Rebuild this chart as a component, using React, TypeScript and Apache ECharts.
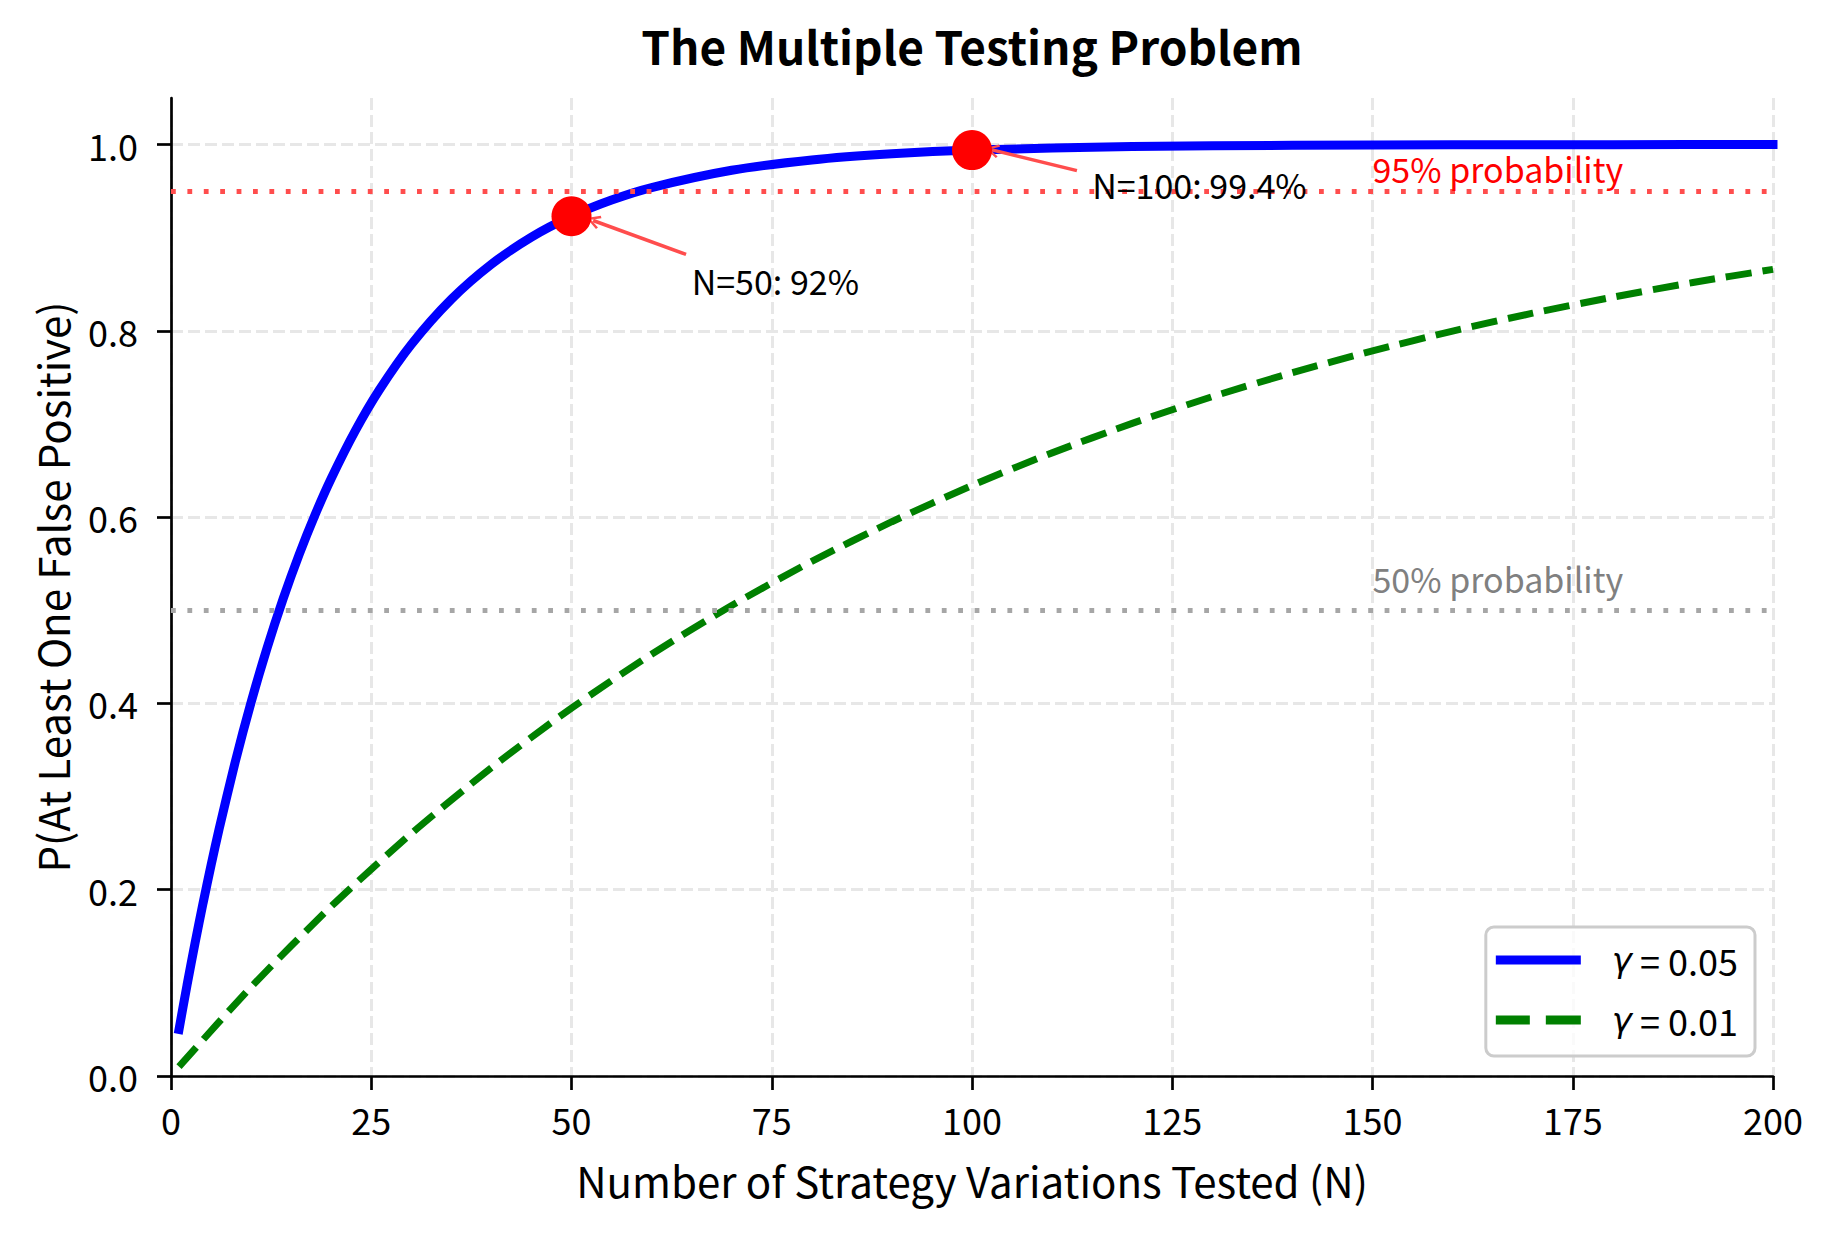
import { useEffect, useRef } from 'react'
import * as echarts from 'echarts'

// N tested and P(at least one false positive)
const N_05 = [1, 2, 3, 4, 5, 6, 8, 10, 12, 14, 16, 18, 20, 23, 26, 30, 35, 40, 45, 50, 55, 60, 70, 80, 90, 100, 120, 140, 160, 180, 200]
const P_05 = [0.05, 0.0975, 0.1426, 0.1855, 0.2262, 0.2649, 0.3366, 0.4013, 0.4596, 0.5123, 0.5599, 0.6028, 0.6415, 0.6926, 0.7365, 0.7854, 0.8339, 0.8715, 0.9006, 0.9231, 0.9405, 0.9539, 0.9724, 0.9835, 0.9901, 0.9941, 0.9979, 0.9992, 0.9997, 0.9999, 1.0]
const N_01 = [1, 10, 20, 30, 40, 50, 60, 70, 80, 90, 100, 110, 120, 130, 140, 150, 160, 170, 180, 190, 200]
const P_01 = [0.01, 0.0956, 0.1821, 0.2603, 0.331, 0.395, 0.4528, 0.5052, 0.5525, 0.5951, 0.634, 0.669, 0.7007, 0.7294, 0.7551, 0.7785, 0.7998, 0.819, 0.8362, 0.8519, 0.866]

const SERIES_NAMES = ['γ = 0.05', 'γ = 0.01']

// highlighted points
const HL_X = [50, 100]
const HL_Y = [0.9231, 0.9941]

// arrows: from text to point
const ARROW_FROM = [[64.3, 0.882], [113.1, 0.972]]
const ARROW_TO = [[52.7, 0.9185], [102.5, 0.9943]]

// reference lines
const REF_Y = [0.95, 0.5]
const REF_COLOR = ['#ff4d4d', '#a6a6a6']

// text notes (baseline-left anchored)
const NOTE_X = [65, 115, 150, 150]
const NOTE_Y = [0.84, 0.943, 0.96, 0.52]
const NOTE_TEXT = ['N=50: 92%', 'N=100: 99.4%', '95% probability', '50% probability']
const NOTE_COLOR = ['#000000', '#000000', '#ff0000', '#808080']

const X_TICKS = [0, 25, 50, 75, 100, 125, 150, 175, 200]
const Y_TICKS = [0, 0.2, 0.4, 0.6, 0.8, 1.0]

const FONT = "'Noto Sans CJK SC', 'Noto Sans', sans-serif"
const NOTE_SIZE = 34
const ARROW = 'path://M5,0 L10,9 L8.6,10 L5,3.4 L1.4,10 L0,9 Z'
// legend keys: solid bar and two dashes
const ICON_SOLID = 'path://M0,0H85V9H0Z'
const ICON_DASHED = 'path://M0,0H34V9H0Z M50,0H85V9H50Z'

const App = () => {
  const ref = useRef<HTMLDivElement | null>(null)

  useEffect(() => {
    document.body.style.margin = '0'
    if (!ref.current) return
    const chart = echarts.init(ref.current, null, { renderer: 'svg' })

    const option = {
      animation: false,
      backgroundColor: '#ffffff',
      title: {
        text: 'The Multiple Testing Problem',
        left: 972,
        top: 22,
        textAlign: 'center',
        padding: 0,
        textStyle: { fontSize: 46, fontWeight: 'bold', fontFamily: FONT, color: '#000' }
      },
      grid: { left: 171, right: 61, top: 98, bottom: 158 },
      legend: {
        data: [
          { name: SERIES_NAMES[0], icon: ICON_SOLID },
          { name: SERIES_NAMES[1], icon: ICON_DASHED }
        ],
        orient: 'vertical',
        right: 79,
        bottom: 178,
        itemWidth: 85,
        itemHeight: 9,
        itemGap: 24,
        padding: [15, 17, 18, 10],
        borderColor: '#cccccc',
        borderWidth: 3,
        borderRadius: 8,
        backgroundColor: 'rgba(255,255,255,0.8)',
        formatter: (name: string) => `{s|}{g|γ}{t| = ${name.split('=')[1].trim()}}`,
        textStyle: {
          fontSize: 36,
          fontFamily: FONT,
          color: '#000',
          rich: {
            s: { width: 26 },
            g: { fontSize: 34, fontStyle: 'italic', fontFamily: "'DejaVu Sans', sans-serif", color: '#000' },
            t: { fontSize: 36, fontFamily: FONT, color: '#000' }
          }
        }
      },
      xAxis: {
        type: 'value',
        min: 0,
        max: 200,
        interval: 25,
        name: 'Number of Strategy Variations Tested (N)',
        nameLocation: 'middle',
        nameGap: 82,
        nameTextStyle: { fontSize: 42, fontFamily: FONT, color: '#000' },
        axisLine: { lineStyle: { color: '#000', width: 2.7 } },
        axisTick: { length: 14, customValues: X_TICKS, lineStyle: { color: '#000', width: 2.7 } },
        axisLabel: { fontSize: 36, fontFamily: FONT, color: '#000', margin: 25, customValues: X_TICKS },
        splitLine: { show: true, lineStyle: { color: '#e7e7e7', width: 3, type: [12, 5] } }
      },
      yAxis: {
        type: 'value',
        min: 0,
        max: 1.05,
        name: 'P(At Least One False Positive)',
        nameLocation: 'middle',
        nameGap: 99,
        nameTextStyle: { fontSize: 42, fontFamily: FONT, color: '#000' },
        axisLine: { show: true, lineStyle: { color: '#000', width: 2.7 } },
        axisTick: { show: true, length: 14, customValues: Y_TICKS, lineStyle: { color: '#000', width: 2.7 } },
        axisLabel: {
          fontSize: 36,
          fontFamily: FONT,
          color: '#000',
          margin: 33,
          customValues: Y_TICKS,
          formatter: (v: number) => v.toFixed(1)
        },
        splitLine: { show: true, lineStyle: { color: '#e7e7e7', width: 3, type: [12, 5] } }
      },
      series: [
        {
          name: SERIES_NAMES[0],
          type: 'line',
          data: N_05.map((n, i) => [n, P_05[i]]),
          symbol: 'none',
          smooth: 0.25,
          lineStyle: { color: '#0000ff', width: 9, cap: 'square' },
          itemStyle: { color: '#0000ff' },
          z: 3
        },
        {
          name: SERIES_NAMES[1],
          type: 'line',
          data: N_01.map((n, i) => [n, P_01[i]]),
          symbol: 'none',
          smooth: 0.25,
          lineStyle: { color: '#008000', width: 7, type: [26, 11] },
          itemStyle: { color: '#008000' },
          z: 3
        },
        {
          name: 'refs',
          type: 'scatter',
          data: [],
          z: 4,
          markLine: {
            silent: true,
            symbol: ['none', 'none'],
            label: { show: false },
            data: REF_Y.map((y, i) => ({ yAxis: y, lineStyle: { color: REF_COLOR[i], width: 4.8, type: [4.8, 11.6] } }))
          }
        },
        {
          name: 'highlight',
          type: 'scatter',
          data: HL_X.map((x, i) => [x, HL_Y[i]]),
          symbolSize: 40,
          itemStyle: { color: '#ff0000', opacity: 1 },
          z: 5,
          markLine: {
            silent: true,
            symbol: ['none', ARROW],
            symbolSize: 14,
            label: { show: false },
            lineStyle: { color: '#ff4d4d', width: 3.5, type: 'solid' },
            data: ARROW_FROM.map((from, i) => [{ coord: from }, { coord: ARROW_TO[i] }])
          }
        },
        {
          name: 'notes',
          type: 'scatter',
          symbolSize: 0,
          z: 6,
          silent: true,
          itemStyle: { opacity: 1 },
          data: NOTE_X.map((x, i) => ({
            value: [x, NOTE_Y[i]],
            label: {
              show: true,
              position: [0, 0],
              align: 'left',
              verticalAlign: 'middle',
              offset: [0, -Math.round(NOTE_SIZE * 0.38)],
              formatter: NOTE_TEXT[i],
              fontSize: NOTE_SIZE,
              fontFamily: FONT,
              color: NOTE_COLOR[i]
            }
          }))
        }
      ]
    }

    chart.setOption(option)
    return () => {
      chart.dispose()
    }
  }, [])

  return <div ref={ref} style={{ width: 1834, height: 1234 }} />
}

export default App
